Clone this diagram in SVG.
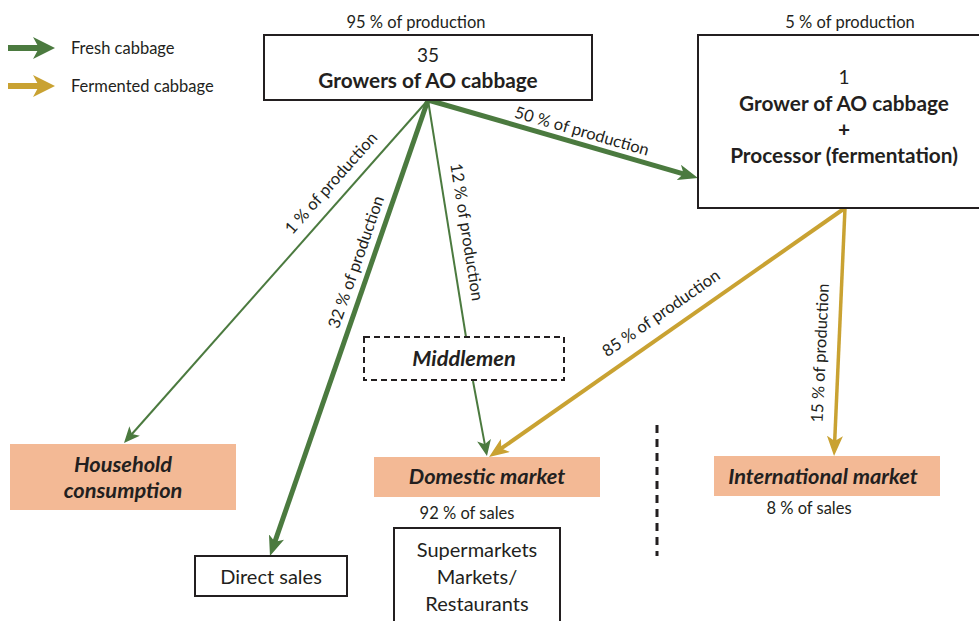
<svg xmlns="http://www.w3.org/2000/svg" width="979" height="621" viewBox="0 0 979 621">
<style>
text{font-family:Lato,"Open Sans","Liberation Sans",sans-serif;fill:#231F20}
.t{font-size:16.5px}
.n{font-size:19px}
.l{font-size:20px}
.b{font-size:20.8px;font-weight:bold}
.bi{font-size:21.8px;font-weight:bold;font-style:italic}
.m{text-anchor:middle}
.box{fill:#fff;stroke:#231F20;stroke-width:2}
.mk{fill:#F3B995}
.g{stroke:#4B7A3F;fill:none}
.y{stroke:#C9A232;fill:none}
</style>
<defs>
<marker id="ag" markerUnits="userSpaceOnUse" viewBox="0 0 20 16" refX="12" refY="8" markerWidth="20" markerHeight="16" orient="auto"><path d="M0,0 L20,8 L0,16 L5,8 Z" fill="#4B7A3F"/></marker>
<marker id="ags" markerUnits="userSpaceOnUse" viewBox="0 0 16 14" refX="8" refY="7" markerWidth="16" markerHeight="14" orient="auto"><path d="M0,0 L16,7 L0,14 L4,7 Z" fill="#4B7A3F"/></marker>
<marker id="ay" markerUnits="userSpaceOnUse" viewBox="0 0 20 16" refX="12" refY="8" markerWidth="20" markerHeight="16" orient="auto"><path d="M0,0 L20,8 L0,16 L5,8 Z" fill="#C9A232"/></marker>
<marker id="lg" markerUnits="userSpaceOnUse" viewBox="0 0 22 22" refX="8" refY="11" markerWidth="22" markerHeight="22" orient="auto"><path d="M0,0 L22,11 L0,22 L6,11 Z" fill="#4B7A3F"/></marker>
<marker id="ly" markerUnits="userSpaceOnUse" viewBox="0 0 22 22" refX="8" refY="11" markerWidth="22" markerHeight="22" orient="auto"><path d="M0,0 L22,11 L0,22 L6,11 Z" fill="#C9A232"/></marker>
</defs>

<g id="legend">
<line x1="8" y1="48" x2="41" y2="48" class="g" stroke-width="6" marker-end="url(#lg)"/>
<text x="71" y="54" class="t">Fresh cabbage</text>
<line x1="8" y1="86" x2="41" y2="86" class="y" stroke-width="6" marker-end="url(#ly)"/>
<text x="71" y="92" class="t">Fermented cabbage</text>
</g>

<g id="connectors">
<line x1="428" y1="100" x2="129.3" y2="437" class="g" stroke-width="2" marker-end="url(#ags)"/>
<line x1="428" y1="100" x2="272.6" y2="548.4" class="g" stroke-width="5" marker-end="url(#ag)"/>
<line x1="428" y1="100" x2="466" y2="337" class="g" stroke-width="2"/>
<line x1="473" y1="381" x2="485.5" y2="448.1" class="g" stroke-width="2" marker-end="url(#ags)"/>
<line x1="428" y1="100" x2="690.3" y2="175.8" class="g" stroke-width="5" marker-end="url(#ag)"/>
<line x1="845" y1="208" x2="495.6" y2="452.4" class="y" stroke-width="4" marker-end="url(#ay)"/>
<line x1="845" y1="208" x2="834.4" y2="448" class="y" stroke-width="3.5" marker-end="url(#ay)"/>
<text class="t m" transform="translate(331,183) rotate(-48.4)" dy="0.35em">1 % of production</text>
<text class="t m" transform="translate(356,262) rotate(-70.8)" dy="0.35em">32 % of production</text>
<text class="t m" transform="translate(467,232) rotate(80.9)" dy="0.35em">12 % of production</text>
<text class="t m" transform="translate(582,131) rotate(16.1)" dy="0.35em">50 % of production</text>
<text class="t m" transform="translate(661,313) rotate(-34.9)" dy="0.35em">85 % of production</text>
<text class="t m" transform="translate(820,353) rotate(-87.4)" dy="0.35em">15 % of production</text>
</g>

<g id="growers">
<text x="416" y="28" class="t m">95 % of production</text>
<rect x="264" y="35" width="328" height="65" class="box"/>
<text x="428" y="62" class="n m">35</text>
<text x="428" y="88" class="b m">Growers of AO cabbage</text>
</g>

<g id="processor">
<text x="850" y="28" class="t m">5 % of production</text>
<rect x="698" y="35" width="290" height="173" class="box"/>
<text x="844" y="84" class="n m">1</text>
<text x="844" y="111" class="b m">Grower of AO cabbage</text>
<text x="844" y="137" class="b m">+</text>
<text x="844" y="163" class="b m">Processor (fermentation)</text>
</g>

<g id="middlemen">
<rect x="364" y="337" width="200" height="43" fill="#fff" stroke="#231F20" stroke-width="2" stroke-dasharray="6,4"/>
<text x="464" y="366" class="bi m">Middlemen</text>
</g>

<g id="household">
<rect x="10" y="444" width="226" height="66" class="mk"/>
<text x="123" y="472" class="bi m">Household</text>
<text x="123" y="498" class="bi m">consumption</text>
</g>

<g id="direct-sales">
<rect x="195" y="556" width="152" height="40" class="box"/>
<text x="271" y="584" class="l m">Direct sales</text>
</g>

<g id="domestic">
<rect x="374" y="457" width="226" height="40" class="mk"/>
<text x="487" y="484" class="bi m">Domestic market</text>
<text x="467" y="519" class="t m">92 % of sales</text>
</g>

<g id="supermarkets">
<rect x="394" y="528" width="166" height="100" class="box"/>
<text x="477" y="557" class="l m">Supermarkets</text>
<text x="477" y="584" class="l m">Markets/</text>
<text x="477" y="611" class="l m">Restaurants</text>
</g>

<g id="international">
<rect x="714" y="456" width="226" height="40" class="mk"/>
<text x="823" y="484" class="bi m">International market</text>
<text x="809" y="514" class="t m">8 % of sales</text>
</g>

<line x1="657" y1="425" x2="657" y2="556" stroke="#231F20" stroke-width="3" stroke-dasharray="8,6"/>
</svg>
